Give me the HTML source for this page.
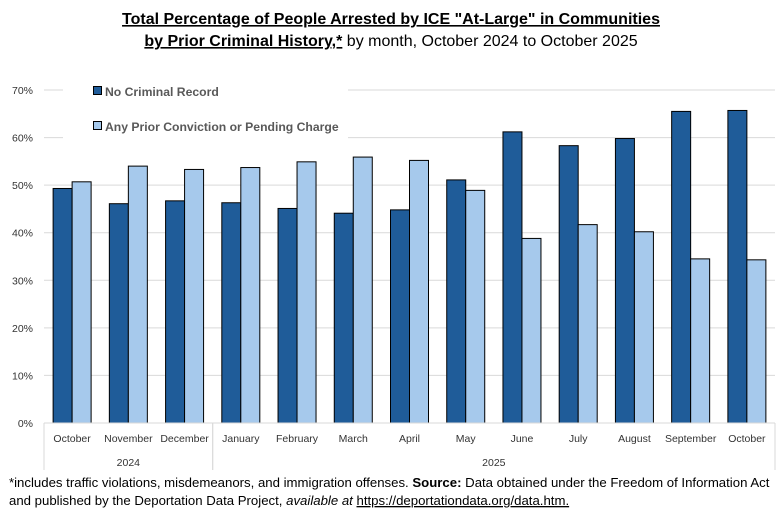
<!DOCTYPE html>
<html><head><meta charset="utf-8"><style>
body{margin:0;background:#fff;width:781px;height:524px;overflow:hidden;font-family:"Liberation Sans",sans-serif}
svg text{font-family:"Liberation Sans",sans-serif}
</style></head><body>
<svg id="chart" width="781" height="524" xmlns="http://www.w3.org/2000/svg">
<text x="391" y="24" text-anchor="middle" font-size="16" font-weight="bold" text-decoration="underline">Total Percentage of People Arrested by ICE "At-Large" in Communities</text>
<text x="391" y="46" text-anchor="middle" font-size="16"><tspan font-weight="bold" text-decoration="underline">by Prior Criminal History,*</tspan> by month, October 2024 to October 2025</text>
<g id="grid"></g><g id="bars"></g>
<rect x="63" y="80" width="285" height="62" fill="#fff"/>
<rect x="93.5" y="86.5" width="8" height="8" fill="#1f5c99" stroke="#000"/>
<text x="105" y="96" font-size="12.2" font-weight="bold" fill="#595959">No Criminal Record</text>
<rect x="93.5" y="121.5" width="8" height="8" fill="#a6c9ec" stroke="#000"/>
<text x="105" y="131" font-size="12.2" font-weight="bold" fill="#595959">Any Prior Conviction or Pending Charge</text>
<g id="axes"></g>
<text x="9" y="487" font-size="13.2">*includes traffic violations, misdemeanors, and immigration offenses. <tspan font-weight="bold">Source:</tspan> Data obtained under the Freedom of Information Act</text>
<text x="9" y="505" font-size="13.2">and published by the Deportation Data Project, <tspan font-style="italic">available at</tspan> <tspan text-decoration="underline">https://deportationdata.org/data.htm.</tspan></text>
</svg>
<script>
const months=["October","November","December","January","February","March","April","May","June","July","August","September","October"];
const noRecord=[49.3,46.1,46.7,46.3,45.1,44.1,44.8,51.1,61.2,58.3,59.8,65.5,65.7];
const priorCharge=[50.7,54.0,53.3,53.7,54.9,55.9,55.2,48.9,38.8,41.7,40.2,34.5,34.3];
const yTicks=[0,10,20,30,40,50,60,70];
const years=[{label:"2024",start:0,end:3},{label:"2025",start:3,end:13}];
const NS="http://www.w3.org/2000/svg";
const x0=44,x1=775,y0=423,yTop=90,yMax=70;
const cw=(x1-x0)/months.length;
const y=v=>y0-(v/yMax)*(y0-yTop);
const xc=i=>x0+i*cw;
function mk(p,tag,attrs){const e=document.createElementNS(NS,tag);for(const k in attrs)e.setAttribute(k,attrs[k]);document.getElementById(p).appendChild(e);return e;}
yTicks.forEach(t=>{
 const l=mk("grid","line",{x1:x0,x2:x1,y1:y(t),y2:y(t),stroke:"#d9d9d9","stroke-width":1});
 
 
 const tx=mk("grid","text",{x:33,y:y(t)+4,"text-anchor":"end","font-size":"10.5",fill:"#333"});
 tx.textContent=t+"%";
 
 
});
const bw=19;
months.forEach((m,i)=>{
 const b1=mk("bars","rect",{x:xc(i)+cw/2-bw,y:y(noRecord[i]),width:bw,height:y0-y(noRecord[i]),fill:"#1f5c99",stroke:"#000","stroke-width":1});
 
 
 const b2=mk("bars","rect",{x:xc(i)+cw/2,y:y(priorCharge[i]),width:bw,height:y0-y(priorCharge[i]),fill:"#a6c9ec",stroke:"#000","stroke-width":1});
 
 
 const t=mk("axes","text",{x:xc(i)+cw/2,y:442,"text-anchor":"middle","font-size":"10.5",fill:"#333"});
 t.textContent=m;
 
 
});
const ax=mk("axes","line",{x1:x0,x2:x1,y1:y0,y2:y0,stroke:"#d9d9d9"});


years.forEach(g=>{
 [g.start,g.end].forEach(k=>{const l=mk("axes","line",{x1:xc(k),x2:xc(k),y1:y0,y2:470,stroke:"#d9d9d9"});
 
 });
 const t=mk("axes","text",{x:(xc(g.start)+xc(g.end))/2,y:466,"text-anchor":"middle","font-size":"10.5",fill:"#333"});
 t.textContent=g.label;
 
 
});
</script>
</body></html>
